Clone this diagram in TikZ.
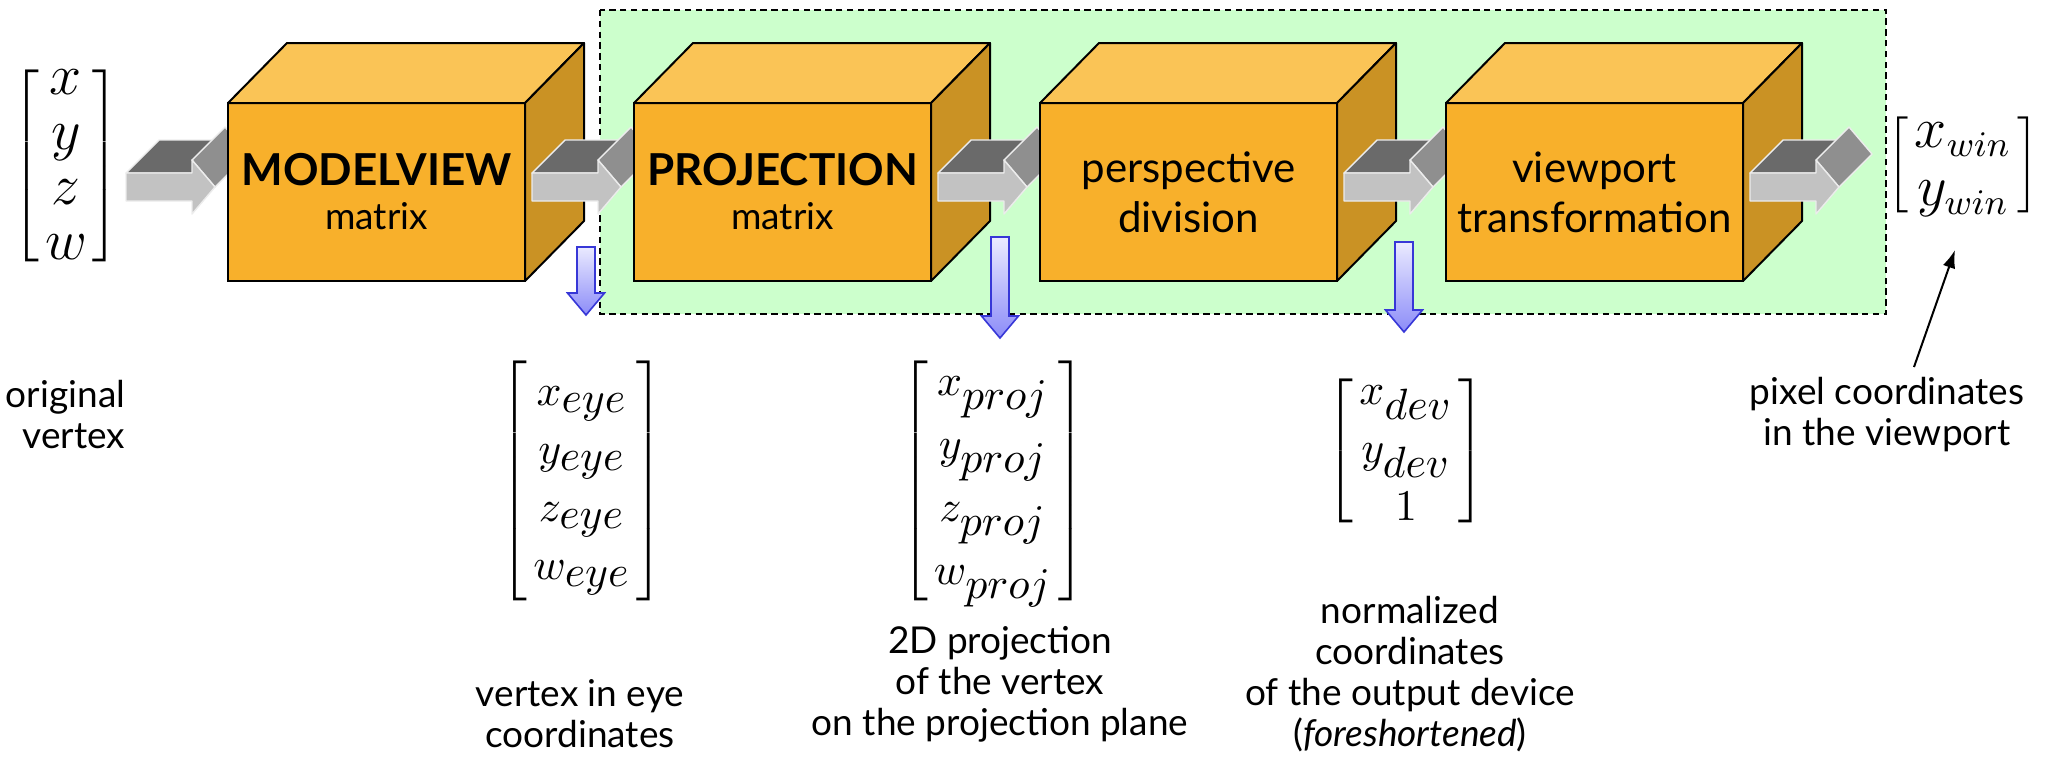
\documentclass[tikz,border=0pt]{standalone}
\usepackage{fontspec}
\setmainfont{Lato}
\usetikzlibrary{calc,arrows.meta}
\delimiterfactor=1001
\delimitershortfall=0pt
\definecolor{boxfront}{RGB}{248,176,43}
\definecolor{boxtop}{RGB}{250,196,86}
\definecolor{boxside}{RGB}{202,146,36}
\definecolor{pipegreen}{RGB}{204,255,204}
\definecolor{arrfront}{RGB}{194,194,194}
\definecolor{arrtop}{RGB}{106,106,106}
\definecolor{arrside}{RGB}{143,143,143}
\definecolor{arredge}{RGB}{236,236,236}
\definecolor{bluetop}{RGB}{234,234,255}
\definecolor{bluebot}{RGB}{140,140,248}
\definecolor{blueedge}{RGB}{55,55,215}
\newcommand{\cubesides}[1]{%
  \draw[facetop] (#1.north west) -- ++(59,-60) -- ++(297,0) -- (#1.north east) -- cycle;
  \draw[faceside] (#1.north east) -- ++(59,-60) -- ++(0,178) -- (#1.south east) -- cycle;}
\newcommand{\blockarrow}[1]{%
  \begin{scope}[shift={#1}]
    \filldraw[arrowtop] (0,-14) -- (33,-47) -- (99,-47) -- (66,-14) -- cycle;
    \filldraw[arrowside] (66,-27) -- (99,-60) -- (122,-33) -- (89,0) -- cycle;
    \filldraw[arrowfront] (0,-14) -- (66,-14) -- (66,-27) -- (89,0) -- (66,27) -- (66,14) -- (0,14) -- cycle;
  \end{scope}}
\newcommand{\bluepointer}[2]{%
  \begin{scope}[shift={#1}]
    \shadedraw[bluearr] (-9,0) -- (9,0) -- (9,#2-22) -- (18.5,#2-22) -- (0,#2) -- (-18.5,#2-22) -- (-9,#2-22) -- cycle;
  \end{scope}}
\newcommand{\msub}[1]{_{\textstyle #1}}
\newcommand{\colvec}[2]{\left[\vcenter{\hbox{\rule{0pt}{#1}}}\smash{\begin{array}{@{\hspace{1.5pt}}c@{\hspace{1.5pt}}}#2\end{array}}\right]}
\newcommand{\captext}[1]{\begin{tabular}[t]{@{}c@{}}#1\end{tabular}}
\begin{document}
\begin{tikzpicture}[x=0.25pt,y=-0.25pt,
  facefront/.style={draw=black,line width=0.5pt,fill=boxfront,minimum width=74.25pt,minimum height=44.5pt,inner sep=0pt,outer sep=0pt,align=center},
  facetop/.style={draw=black,line width=0.5pt,fill=boxtop,line join=round},
  faceside/.style={draw=black,line width=0.5pt,fill=boxside,line join=round},
  arrowtop/.style={fill=arrtop,draw=arredge,line width=0.35pt,line join=round},
  arrowside/.style={fill=arrside,draw=arredge,line width=0.35pt,line join=round},
  arrowfront/.style={fill=arrfront,draw=arredge,line width=0.35pt,line join=round},
  bluearr/.style={top color=bluetop,bottom color=bluebot,draw=blueedge,line width=0.4pt,line join=miter},
  caption/.style={font=\fontsize{9.25}{10.25}\selectfont,inner sep=0pt,anchor=base},
  vecnode/.style={inner sep=0pt},
  titlefont/.style={font=\fontsize{11}{11}\selectfont},
  plainfont/.style={font=\fontsize{10.5}{12.5}\selectfont},
]
\useasboundingbox (0,0) rectangle (2048,765);

% green region
\draw[fill=pipegreen,dash pattern=on 1.6pt off 1.1pt,line width=0.45pt] (600,10) rectangle (1886,314);

\path (376.5,192) coordinate (c1) (782.5,192) coordinate (c2) (1188.5,192) coordinate (c3) (1594.5,192) coordinate (c4);

\blockarrow{(126,187)}
\node[facefront,titlefont] (mv) at (c1) {\textbf{MODELVIEW}\\{\fontsize{9.25}{11}\selectfont matrix}};
\cubesides{mv}

\blockarrow{($(mv.east)+(7,-5)$)}
\node[facefront,titlefont] (pr) at (c2) {\textbf{PROJECTION}\\{\fontsize{9.25}{11}\selectfont matrix}};
\cubesides{pr}

\blockarrow{($(pr.east)+(7,-5)$)}
\node[facefront,plainfont] (pd) at (c3) {perspective\\division};
\cubesides{pd}

\blockarrow{($(pd.east)+(7,-5)$)}
\node[facefront,plainfont] (vt) at (c4) {viewport\\transformation};
\cubesides{vt}

\blockarrow{($(vt.east)+(7,-5)$)}

% blue down arrows
\bluepointer{(586,247)}{68}
\bluepointer{(1000,237)}{101}
\bluepointer{(1404,242)}{90}

% vectors
\node[vecnode] (v0) at (66,166) {\fontsize{14.5}{13.75}\selectfont$\colvec{46pt}{x\\y\\z\\w}$};
\node[vecnode] (veye) at (582,481) {\fontsize{10.5}{14.5}\selectfont$\colvec{55.5pt}{x\msub{eye}\\y\msub{eye}\\z\msub{eye}\\w\msub{eye}}$};
\node[vecnode] (vproj) at (993,481) {\fontsize{10.5}{14.5}\selectfont$\colvec{55.5pt}{x\msub{proj}\\y\msub{proj}\\z\msub{proj}\\w\msub{proj}}$};
\node[vecnode] (vdev) at (1406,451) {\fontsize{10.5}{14.5}\selectfont$\colvec{31.5pt}{x\msub{dev}\\y\msub{dev}\\1}$};
\node[vecnode] (vwin) at (1963,165) {\fontsize{13.5}{14.5}\selectfont$\colvec{20.75pt}{x_{win}\\y_{win}}$};

% captions
\node[caption,anchor=base east] (corig) at (126,407) {\begin{tabular}[t]{@{}r@{}}original\\vertex\end{tabular}};
\node[caption] (ceye) at (580,706) {\captext{vertex in eye\\coordinates}};
\node[caption] (cproj) at (1000,653) {\captext{2D projection\\of the vertex\\on the projection plane}};
\node[caption] (cdev) at (1410,623) {\captext{normalized\\coordinates\\of the output device\\(\textit{foreshortened})}};
\node[caption] (cpix) at (1887,404) {\captext{pixel coordinates\\in the viewport}};

% pointer to window coordinates
\coordinate (ptail) at (1914,367);
\coordinate (phead) at (1955,250);
\draw[line width=0.5pt,-{Latex[length=4.5pt,width=3.2pt]}] (ptail) -- (phead);
\end{tikzpicture}
\end{document}
